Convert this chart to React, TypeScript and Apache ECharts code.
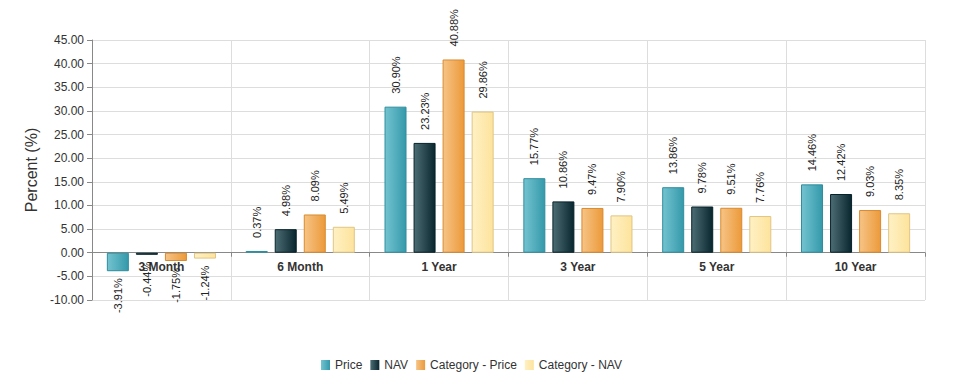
import React, { useEffect, useRef } from "react";
import * as echarts from "echarts";

const categories = ["3 Month", "6 Month", "1 Year", "3 Year", "5 Year", "10 Year"];
const priceValues = [-3.91, 0.37, 30.9, 15.77, 13.86, 14.46];
const navValues = [-0.44, 4.98, 23.23, 10.86, 9.78, 12.42];
const catPriceValues = [-1.75, 8.09, 40.88, 9.47, 9.51, 9.03];
const catNavValues = [-1.24, 5.49, 29.86, 7.9, 7.76, 8.35];
const seriesNames = ["Price", "NAV", "Category - Price", "Category - NAV"];

const palette = [
  { light: "#74c3d0", dark: "#3499aa", border: "#2e8d9d", legend: "#3ba3b5" },
  { light: "#4d6d74", dark: "#08262e", border: "#06222a", legend: "#0c3640" },
  { light: "#f6c486", dark: "#ec9a3a", border: "#d88a30", legend: "#f0a444" },
  { light: "#fff1c4", dark: "#fde39c", border: "#e0c584", legend: "#fde6a0" },
];

const FONT = "Arial, 'Liberation Sans', sans-serif";

export default function App() {
  const ref = useRef<HTMLDivElement>(null);
  useEffect(() => {
    document.body.style.margin = "0";
    const chart = echarts.init(ref.current!, undefined, { renderer: "svg" });
    const all = [priceValues, navValues, catPriceValues, catNavValues];
    const gridTop = 40;
    const gridHeight = 260;
    const yMin = -10;
    const yMax = 45;
    const zeroY = gridTop + (yMax / (yMax - yMin)) * gridHeight;
    const xOffset = -(gridTop + gridHeight - zeroY);
    const series = all.map((vals, i) => ({
      name: seriesNames[i],
      type: "bar",
      barWidth: 22,
      barGap: "32%",
      itemStyle: {
        color: new echarts.graphic.LinearGradient(0, 0, 1, 0, [
          { offset: 0, color: palette[i].light },
          { offset: 1, color: palette[i].dark },
        ]),
        borderColor: palette[i].border,
        borderWidth: 1,
      },
      data: vals.map((v) => ({
        value: v,
        label: {
          show: true,
          position: v >= 0 ? "top" : "bottom",
          rotate: 90,
          align: v >= 0 ? "left" : "right",
          verticalAlign: "middle",
          distance: v >= 0 ? 13 : 7,
          formatter: (p: any) => p.value.toFixed(2) + "%",
          fontSize: 11,
          color: "#222",
          fontFamily: FONT,
        },
      })),
    }));
    chart.setOption({
      animation: false,
      textStyle: { fontFamily: FONT },
      color: palette.map((p) => p.legend),
      grid: { left: 92, right: 30, top: gridTop, height: gridHeight, containLabel: false },
      legend: {
        bottom: 11,
        left: 316,
        icon: "rect",
        itemWidth: 9,
        itemHeight: 10,
        itemGap: 8,
        itemStyle: { borderWidth: 0 },
        textStyle: { fontSize: 12, color: "#333", fontFamily: FONT },
        data: seriesNames,
      },
      xAxis: {
        type: "category",
        data: categories,
        offset: xOffset,
        axisLine: { onZero: false, lineStyle: { color: "#888" } },
        axisTick: { show: true, length: 4, lineStyle: { color: "#888" } },
        axisLabel: { fontWeight: "bold", fontSize: 12, color: "#333", margin: 8, fontFamily: FONT },
        splitLine: { show: true, lineStyle: { color: "#ddd" } },
      },
      yAxis: {
        type: "value",
        min: yMin,
        max: yMax,
        interval: 5,
        name: "Percent (%)",
        nameLocation: "middle",
        nameGap: 53,
        nameTextStyle: { fontSize: 16, color: "#333", fontFamily: FONT },
        axisLine: { show: true, lineStyle: { color: "#888" } },
        axisTick: { show: true, length: 5, lineStyle: { color: "#888" } },
        axisLabel: { fontSize: 12, color: "#333", fontFamily: FONT, formatter: (v: number) => v.toFixed(2) },
        splitLine: { show: true, lineStyle: { color: "#ddd" } },
      },
      series,
    });
    return () => chart.dispose();
  }, []);
  return <div ref={ref} style={{ width: 955, height: 387 }} />;
}
